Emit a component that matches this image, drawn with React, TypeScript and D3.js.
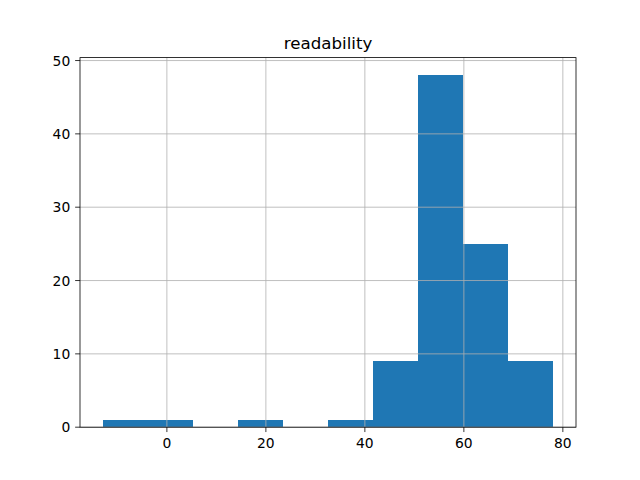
import React from "react";
import * as d3 from "d3";

const title = "readability";
const binStart = -13.0;
const binEnd = 78.1;
const counts = [1, 1, 0, 1, 0, 1, 9, 48, 25, 9];
const xTicks = [0, 20, 40, 60, 80];
const yTicks = [0, 10, 20, 30, 40, 50];

const W = 640;
const H = 480;
const left = 80;
const right = 576;
const top = 57.6;
const bottom = 427.2;

export default function App() {
  const binW = (binEnd - binStart) / counts.length;
  const edges = counts.map((_, i) => binStart + i * binW);
  const pad = (binEnd - binStart) * 0.05;
  const x = d3.scaleLinear().domain([binStart - pad, binEnd + pad]).range([left, right]);
  const ymax = (d3.max(counts) as number) * 1.05;
  const y = d3.scaleLinear().domain([0, ymax]).range([bottom, top]);
  const tick = 4.86;
  const font = "DejaVu Sans";
  return (
    <svg width={W} height={H} style={{ position: "absolute", left: 0, top: 0 }}>
      <rect x={0} y={0} width={W} height={H} fill="white" />
      {counts.map((c, i) => (
        <rect
          key={i}
          x={x(edges[i])}
          y={y(c)}
          width={x(edges[i] + binW) - x(edges[i])}
          height={bottom - y(c)}
          fill="#1f77b4"
          shapeRendering="crispEdges"
        />
      ))}
      {xTicks.map((t) => (
        <line key={"gx" + t} x1={x(t)} x2={x(t)} y1={top} y2={bottom} stroke="#b0b0b0" strokeWidth={0.8} />
      ))}
      {yTicks.map((t) => (
        <line key={"gy" + t} x1={left} x2={right} y1={y(t)} y2={y(t)} stroke="#b0b0b0" strokeWidth={0.8} />
      ))}
      <rect x={left} y={top} width={right - left} height={bottom - top} fill="none" stroke="black" strokeWidth={0.8} />
      {xTicks.map((t) => (
        <g key={"tx" + t}>
          <line x1={x(t)} x2={x(t)} y1={bottom} y2={bottom + tick} stroke="black" strokeWidth={0.8} />
          <text x={x(t)} y={bottom + tick * 2 + 11} textAnchor="middle" fontFamily={font} fontSize={13.89} fill="black">
            {t}
          </text>
        </g>
      ))}
      {yTicks.map((t) => (
        <g key={"ty" + t}>
          <line x1={left - tick} x2={left} y1={y(t)} y2={y(t)} stroke="black" strokeWidth={0.8} />
          <text x={left - tick * 2} y={y(t)} dy="0.36em" textAnchor="end" fontFamily={font} fontSize={13.89} fill="black">
            {t}
          </text>
        </g>
      ))}
      <text x={(left + right) / 2} y={top - 8.33} textAnchor="middle" fontFamily={font} fontSize={16.67} fill="black">
        {title}
      </text>
    </svg>
  );
}
